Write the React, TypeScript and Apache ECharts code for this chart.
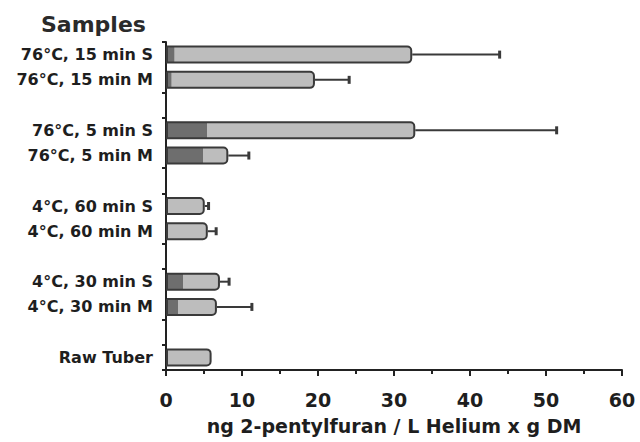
import React, { useEffect, useRef } from "react";
import * as echarts from "echarts";

// Categories listed top to bottom ("" = spacer rows between groups)
const categories = [
  "76°C, 15 min S",
  "76°C, 15 min M",
  "",
  "76°C, 5 min S",
  "76°C, 5 min M",
  "",
  "4°C, 60 min S",
  "4°C, 60 min M",
  "",
  "4°C, 30 min S",
  "4°C, 30 min M",
  "",
  "Raw Tuber",
];
// Mean values (ng 2-pentylfuran / L Helium x g DM)
const means: (number | null)[] = [32.4, 19.6, null, 32.8, 8.2, null, 5.1, 5.5, null, 7.1, 6.7, null, 6.0];
// Upper end of the error bars
const upperErrors: (number | null)[] = [43.9, 24.1, null, 51.4, 10.9, null, 5.6, 6.6, null, 8.3, 11.3, null, 6.0];
// Share of each bar drawn with the darker fill at its base
const darkShare: (number | null)[] = [0.03, 0.03, null, 0.16, 0.6, null, 0.0, 0.0, null, 0.3, 0.22, null, 0.0];

const xTicks = { min: 0, max: 60, interval: 10 };
const yAxisTitle = "Samples";
const xAxisTitle = "ng 2-pentylfuran / L Helium x g DM";

const FONT = "DejaVu Sans";
const INK = "#1e1e1e";

export default function App() {
  const ref = useRef<HTMLDivElement>(null);
  useEffect(() => {
    if (!ref.current) return;
    const chart = echarts.init(ref.current, undefined, { renderer: "svg" });

    const barData = means.map((v, i) => {
      if (v == null) return null;
      const d = darkShare[i] || 0;
      return {
        value: v,
        itemStyle: {
          color: {
            type: "linear",
            x: 0,
            y: 0,
            x2: 1,
            y2: 0,
            colorStops: [
              { offset: 0, color: "#6e6e6e" },
              { offset: d, color: "#6e6e6e" },
              { offset: Math.min(1, d + 0.001), color: "#bdbdbd" },
              { offset: 1, color: "#bdbdbd" },
            ],
          },
        },
      };
    });

    const errData: any[] = [];
    means.forEach((v, i) => {
      const e = upperErrors[i];
      if (v != null && e != null && e > v) errData.push([v, e, i]);
    });

    const option: any = {
      animation: false,
      backgroundColor: "#ffffff",
      title: {
        text: yAxisTitle,
        left: 36,
        top: 8,
        textStyle: { fontFamily: FONT, fontWeight: "bold", fontSize: 22, color: "#2a2a2a" },
      },
      grid: { left: 166, right: 18, top: 42, bottom: 72, containLabel: false },
      xAxis: {
        type: "value",
        min: xTicks.min,
        max: xTicks.max,
        interval: xTicks.interval,
        name: xAxisTitle,
        nameLocation: "middle",
        nameGap: 46,
        nameTextStyle: { fontFamily: FONT, fontWeight: "bold", fontSize: 19, color: INK },
        axisLine: { show: true, lineStyle: { color: "#222", width: 2 } },
        axisTick: { show: true, length: 6, lineStyle: { color: "#222", width: 2 } },
        minorTick: { show: true, splitNumber: 2, length: 4, lineStyle: { color: "#222", width: 2 } },
        splitLine: { show: false },
        axisLabel: { fontFamily: FONT, fontWeight: "bold", fontSize: 19, color: INK, margin: 20 },
      },
      yAxis: {
        type: "category",
        inverse: true,
        data: categories,
        axisLine: { show: true, lineStyle: { color: "#222", width: 2 } },
        axisTick: {
          show: true,
          length: 4,
          interval: (index: number) => index % 3 !== 1,
          lineStyle: { color: "#222", width: 2 },
        },
        axisLabel: {
          interval: 0,
          fontFamily: FONT,
          fontWeight: "bold",
          fontSize: 16,
          color: INK,
          margin: 13,
        },
        splitLine: { show: false },
      },
      series: [
        {
          type: "bar",
          data: barData,
          barWidth: 18,
          itemStyle: { borderColor: "#3a3a3a", borderWidth: 2, borderRadius: [0, 4, 4, 0] },
          z: 2,
        },
        {
          type: "custom",
          data: errData,
          encode: { x: [0, 1], y: 2 },
          z: 3,
          renderItem: (params: any, api: any) => {
            const cat = api.value(2);
            const a = api.coord([api.value(0), cat]);
            const b = api.coord([api.value(1), cat]);
            return {
              type: "group",
              children: [
                {
                  type: "line",
                  shape: { x1: a[0], y1: a[1], x2: b[0], y2: b[1] },
                  style: { stroke: "#3a3a3a", lineWidth: 2 },
                },
                {
                  type: "line",
                  shape: { x1: b[0], y1: b[1] - 4, x2: b[0], y2: b[1] + 4 },
                  style: { stroke: "#3a3a3a", lineWidth: 3 },
                },
              ],
            };
          },
        },
      ],
    };
    chart.setOption(option);
    return () => chart.dispose();
  }, []);

  return (
    <div
      ref={ref}
      style={{ position: "fixed", left: 0, top: 0, width: 640, height: 442, background: "#fff" }}
    />
  );
}
